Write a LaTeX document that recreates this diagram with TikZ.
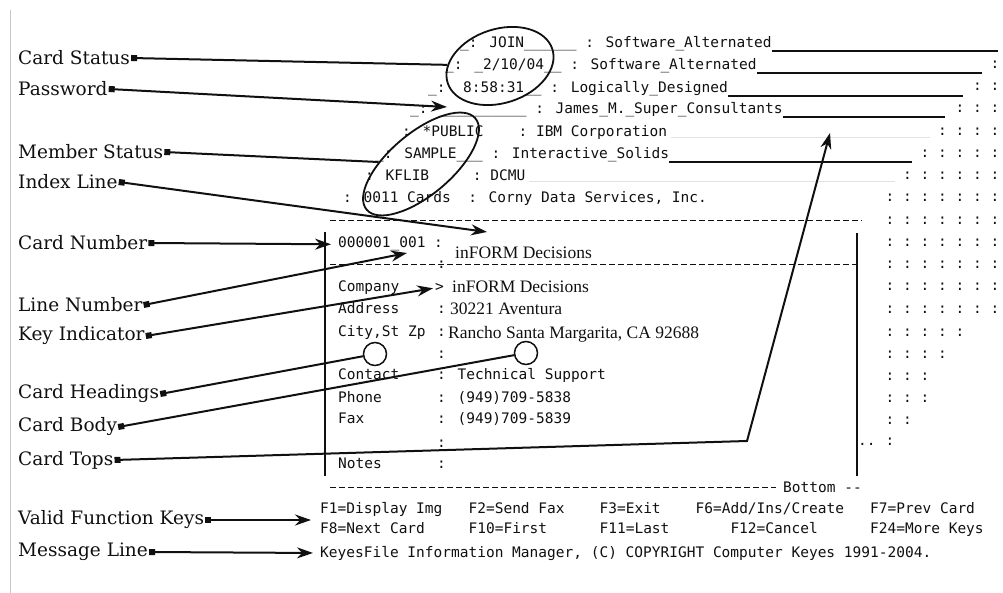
\documentclass[tikz,border=0pt]{standalone}
\usepackage{fontspec}
\usepackage{tikz}
\usetikzlibrary{arrows.meta, positioning, calc, shapes.geometric}
\newfontfamily\lblfam{DejaVu Serif}
\newfontfamily\scrfam{DejaVu Sans Mono}
\newfontfamily\fldfam{Liberation Serif}
\definecolor{ink}{HTML}{101010}
\definecolor{rulegray}{HTML}{C8C8C8}
\definecolor{faintgray}{HTML}{E2E2E2}

\begin{document}
\begin{tikzpicture}[x=1pt, y=-1pt, text=ink,
  lbl/.style     ={anchor=west, inner sep=1pt, font=\lblfam\fontsize{18.5}{20}\selectfont},
  scr/.style     ={anchor=base west, inner sep=0pt, font=\scrfam\fontsize{14.5}{16}\selectfont},
  fld/.style     ={anchor=base west, inner sep=0pt, font=\fldfam\fontsize{17.5}{19}\selectfont},
  ring/.style    ={draw=ink, ellipse, line width=1.8pt, inner sep=0pt},
  hole/.style    ={draw=ink, circle, line width=1.5pt, minimum size=23pt, inner sep=0pt},
  arr/.style     ={{Square[length=6pt,width=6pt]}-{Stealth[length=16pt,width=11pt]}, line width=2pt, draw=ink},
  tie/.style     ={{Square[length=6pt,width=6pt]}-, line width=2pt, draw=ink},
  dashrule/.style={line width=1pt, draw=ink, dash pattern=on 6pt off 3pt},
  uline/.style   ={line width=1.1pt, draw=ink},
  faint/.style   ={line width=1pt, draw=faintgray}
]
\useasboundingbox (0,0) rectangle (1003,593);
\draw[rulegray, line width=1pt] (10,10) -- (10,593);

% callout labels
\node[lbl] (stat) at (17,58)  {Card Status};
\node[lbl] (pw)   at (17,89)  {Password};
\node[lbl] (mem)  at (17,152) {Member Status};
\node[lbl] (idx)  at (17,182) {Index Line};
\node[lbl] (cnum) at (17,243) {Card Number};
\node[lbl] (lnum) at (17,305) {Line Number};
\node[lbl] (key)  at (17,336) {Key Indicator};
\node[lbl] (chd)  at (17,394) {Card Headings};
\node[lbl] (cbd)  at (17,427) {Card Body};
\node[lbl] (tops) at (17,460) {Card Tops};
\node[lbl] (vfk)  at (17,520) {Valid Function Keys};
\node[lbl] (msg)  at (17,552) {Message Line};

% the stacked card tops
\node[scr] (r1) at (460,48)  {\_: JOIN\_\_\_\_\_\_ : Software\_Alternated};
\node[scr] (r2) at (445,70)  {\_: \_2/10/04\_\_ : Software\_Alternated};
\node[scr] (r3) at (428,93)  {\_:\ \ 8:58:31\_\_ : Logically\_Designed};
\node[scr] (r4) at (410,114) {\_: \_\_\_\_\_\_\_\_\_\_ : James\_M.\_Super\_Consultants};
\node[scr] (r5) at (402,137) {: *PUBLIC\ \ \ \ : IBM Corporation};
\node[scr] (r6) at (375,159) {\_: SAMPLE\_\_\_ : Interactive\_Solids};
\node[scr] (r7) at (365,181) {: KFLIB\ \ \ \ \ : DCMU};
\node[scr] (r8) at (343,203) {: 0011 Cards\ \ : Corny Data Services, Inc.};
\draw[uline] (r1.base east) ++(0,3) -- (998,51);
\draw[uline] (r2.base east) ++(0,3) -- (982,73);
\draw[uline] (r3.base east) ++(0,3) -- (963,96);
\draw[uline] (r4.base east) ++(0,3) -- (945,117);
\draw[uline] (r6.base east) ++(0,3) -- (912,162);
\draw[faint] (r5.base east) ++(4,1) -- (930,138);
\draw[faint] (r7.base east) ++(4,1) -- (895,182);

% staircase of card edges
\foreach \y/\n in {69/1,91/2,113/3,136/4,158/5,180/6,202/7}
  \foreach \k in {1,...,\n}
    \node[scr, anchor=base] (gt-\y-\k) at (1012.5-17.5*\k,\y) {:};
\foreach \y/\n in {225/7,247/7,269/7,291/7,314/7,336/5,358/4,380/3,402/3,424/2,445/1}
  \foreach \k in {1,...,\n}
    \node[scr, anchor=base] (gb-\y-\k) at (872.5+17.5*\k,\y) {:};
\node[scr] (gtail) at (858,445) {..};

% the open card
\draw[dashrule] (330,221) -- (862,221);
\draw[dashrule] (330,265) -- (857,265);
\draw[dashrule] (330,487) -- (776,487);
\node[scr] (btm) at (783,492) {Bottom --};
\draw[ink, line width=1.2pt] (325,232) -- (325,476);
\draw[ink, line width=1.2pt] (857,233) -- (857,476);

\node[scr] (cardno) at (338,248) {000001\_001 :};
\node[fld] (title)  at (455,259) {inFORM Decisions};
\node[scr] (sep)    at (437,269) {:};
\foreach \y/\k in {292/Company,314/Address,337/{City,St Zp},379/Contact,402/Phone,423/Fax,468/Notes}
  \node[scr] (key-\y) at (338,\y) {\k};
\foreach \y in {314,337,358,447,468}
  \node[scr] (col-\y) at (437,\y) {:};
\node[scr] (keyind) at (435,292) {>};
\node[fld] (fco)  at (452,293) {inFORM Decisions};
\node[fld] (fad)  at (450,315) {30221 Aventura};
\node[fld] (fci)  at (448,338) {Rancho Santa Margarita, CA 92688};
\node[scr] (fct)  at (437,379) {: Technical Support};
\node[scr] (fph)  at (437,402) {: (949)709-5838};
\node[scr] (ffx)  at (437,423) {: (949)709-5839};

% function keys and message line
\node[scr] (f1)  at (320,513)   {F1=Display Img};
\node[scr] (f2)  at (468.4,513) {F2=Send Fax};
\node[scr] (f3)  at (599.4,513) {F3=Exit};
\node[scr] (f6)  at (695.4,513) {F6=Add/Ins/Create};
\node[scr] (f7)  at (870,513)   {F7=Prev Card};
\node[scr] (f8)  at (320,533)   {F8=Next Card};
\node[scr] (f10) at (468.4,533) {F10=First};
\node[scr] (f11) at (599.4,533) {F11=Last};
\node[scr] (f12) at (730.3,533) {F12=Cancel};
\node[scr] (f24) at (870,533)   {F24=More Keys};
\node[scr] (msgtxt) at (320,557) {KeyesFile Information Manager, (C) COPYRIGHT Computer Keyes 1991-2004.};

% marks on the screen
\node[ring, rotate=18, minimum width=110pt, minimum height=74pt] (e1) at (500,66) {};
\node[ring, rotate=40, minimum width=142pt, minimum height=62pt] (e2) at (421,164) {};
\node[hole] (c1) at (375,354) {};
\node[hole] (c2) at (526,353) {};

\coordinate (pwend)    at (447,107);
\coordinate (idxend)   at (487,232);
\coordinate (lnumend)  at (407,253);
\coordinate (topsbend) at (747,441);
\coordinate (topsend)  at (830,133);
\coordinate (vfkend)   at (311,520);

\draw[tie] (stat.east) -- (e1);
\draw[arr] (pw.east) -- (pwend);
\draw[tie] (mem.east) -- (e2);
\draw[arr] (idx.east) -- (idxend);
\draw[arr, shorten >=7pt] (cnum.east) -- (cardno.west);
\draw[arr] (lnum.east) -- (lnumend);
\draw[arr, shorten >=2pt] (key.east) -- (keyind.west);
\draw[tie] (chd.east) -- (c1);
\draw[tie] (cbd.east) -- (c2);
\draw[arr] (tops.east) -- (topsbend) -- (topsend);
\draw[arr] (vfk.east) -- (vfkend);
\draw[arr, shorten >=7pt] (msg.east) -- (msgtxt.west);
\end{tikzpicture}
\end{document}
